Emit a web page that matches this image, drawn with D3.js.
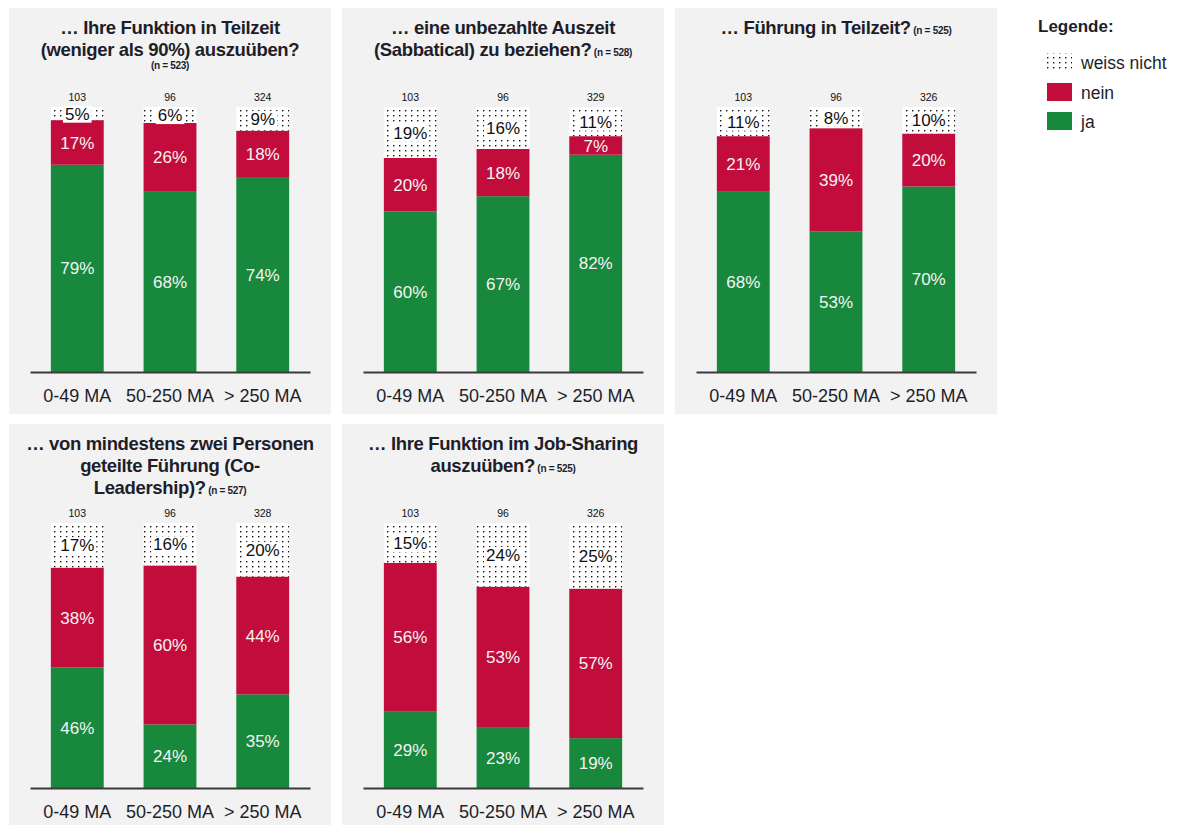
<!DOCTYPE html>
<html>
<head>
<meta charset="utf-8">
<script src="https://cdn.jsdelivr.net/npm/d3@7"></script>
<style>
  body { margin: 0; background: #fff; }
  svg { display: block; font-family: Arial, 'Liberation Sans', sans-serif; }
</style>
</head>
<body>
<svg id="chart"></svg>
<script>
// categories (company size)
let categories = ['0-49 MA', '50-250 MA', '> 250 MA'];

// titles per panel, the n is placed on its own line for the first one
let titleLines = [
  ['… Ihre Funktion in Teilzeit', '(weniger als 90%) auszuüben?'],
  ['… eine unbezahlte Auszeit', '(Sabbatical) zu beziehen?'],
  ['… Führung in Teilzeit?'],
  ['… von mindestens zwei Personen', 'geteilte Führung (Co-', 'Leadership)?'],
  ['… Ihre Funktion im Job-Sharing', 'auszuüben?']
];
let nOwnLine = [true, false, false, false, false];
let sampleSizes = [523, 528, 525, 527, 525];

let groupCounts = [
  [103, 96, 324],
  [103, 96, 329],
  [103, 96, 326],
  [103, 96, 328],
  [103, 96, 326]
];

let jaValues = [
  [79, 68, 74],
  [60, 67, 82],
  [68, 53, 70],
  [46, 24, 35],
  [29, 23, 19]
];
let neinValues = [
  [17, 26, 18],
  [20, 18, 7],
  [21, 39, 20],
  [38, 60, 44],
  [56, 53, 57]
];
let weissNichtValues = [
  [5, 6, 9],
  [19, 16, 11],
  [11, 8, 10],
  [17, 16, 20],
  [15, 24, 25]
];

let legendLabels = ['weiss nicht', 'nein', 'ja'];

let colors = { ja: '#17883c', nein: '#c20c3b', wn: 'url(#dots)' };
let panelW = 322;
let panelH = 406;
let panelPos = [[9, 8], [342, 8], [675, 8], [9, 424], [342, 424]];

function drawPanel(svg, i) {
  let g = svg.append('g')
    .attr('transform', `translate(${panelPos[i][0]},${panelPos[i][1]})`);

  g.append('rect')
    .attr('width', panelW)
    .attr('height', panelH)
    .attr('fill', '#f2f2f2');

  // title
  let title = g.append('text')
    .attr('text-anchor', 'middle')
    .attr('font-weight', 'bold')
    .attr('font-size', 18.5)
    .attr('letter-spacing', -0.35)
    .attr('fill', '#1e1e2a');
  titleLines[i].forEach((line, k) => {
    title.append('tspan')
      .attr('x', panelW / 2)
      .attr('y', 25.5 + k * 22)
      .text(line);
  });
  let nText = `(n = ${sampleSizes[i]})`;
  if (nOwnLine[i]) {
    g.append('text')
      .attr('text-anchor', 'middle')
      .attr('x', panelW / 2)
      .attr('y', 61)
      .attr('font-weight', 'bold')
      .attr('font-size', 10)
      .attr('letter-spacing', -0.3)
      .attr('fill', '#1e1e2a')
      .text(nText);
  } else {
    title.append('tspan')
      .attr('font-size', 10)
      .attr('letter-spacing', -0.3)
      .text(' ' + nText);
  }

  let rows = categories.map((c, j) => ({
    cat: c,
    ja: jaValues[i][j],
    nein: neinValues[i][j],
    wn: weissNichtValues[i][j],
    count: groupCounts[i][j]
  }));

  // stackOffsetExpand normalises each bar to 100%
  let series = d3.stack()
    .keys(['ja', 'nein', 'wn'])
    .offset(d3.stackOffsetExpand)(rows);

  let xScale = d3.scaleBand()
    .domain(categories)
    .range([21, 301])
    .paddingInner(0.43)
    .paddingOuter(0.225);

  let yScale = d3.scaleLinear()
    .domain([0, 1])
    .range([364, 99]);

  let layers = g.selectAll('g.layer')
    .data(series)
    .enter()
    .append('g')
    .attr('class', 'layer');

  layers.selectAll('rect')
    .data((s) => s.map((d) => ({ key: s.key, d: d })))
    .enter()
    .append('rect')
    .attr('x', (p) => xScale(p.d.data.cat))
    .attr('y', (p) => yScale(p.d[1]))
    .attr('width', xScale.bandwidth())
    .attr('height', (p) => yScale(p.d[0]) - yScale(p.d[1]))
    .attr('fill', (p) => colors[p.key]);

  // segment labels
  series.forEach((s) => {
    s.forEach((d) => {
      let cx = xScale(d.data.cat) + xScale.bandwidth() / 2;
      let cy = (yScale(d[0]) + yScale(d[1])) / 2;
      let label = g.append('text')
        .attr('x', cx)
        .attr('y', cy)
        .attr('dy', '0.36em')
        .attr('text-anchor', 'middle')
        .attr('font-size', 17)
        .attr('fill', s.key == 'wn' ? '#111' : '#f4f4f4')
        .text(d.data[s.key] + '%');
      if (s.key == 'wn') {
        let bb = label.node().getBBox();
        g.insert('rect', () => label.node())
          .attr('x', bb.x - 2)
          .attr('y', bb.y + 1)
          .attr('width', bb.width + 4)
          .attr('height', bb.height - 2)
          .attr('fill', '#fff');
      }
    });
  });

  // counts above bars
  g.selectAll('text.count')
    .data(rows)
    .enter()
    .append('text')
    .attr('class', 'count')
    .attr('x', (d) => xScale(d.cat) + xScale.bandwidth() / 2)
    .attr('y', yScale(1) - 6)
    .attr('text-anchor', 'middle')
    .attr('font-size', 10.5)
    .attr('fill', '#111')
    .text((d) => d.count);

  // AXIS
  let axis = g.append('g')
    .attr('transform', `translate(0, ${yScale(0)})`)
    .call(d3.axisBottom(xScale).tickSize(0).tickPadding(17));
  axis.select('.domain')
    .attr('stroke', '#3a3a3a')
    .attr('stroke-width', 2);
  axis.selectAll('text')
    .attr('font-size', 18)
    .attr('font-family', 'Arial, "Liberation Sans", sans-serif')
    .attr('fill', '#1e1e2a');
}

function drawLegend(svg) {
  let g = svg.append('g').attr('transform', 'translate(1038, 0)');
  g.append('text')
    .attr('x', 0)
    .attr('y', 32)
    .attr('font-weight', 'bold')
    .attr('font-size', 17)
    .attr('fill', '#1e1e2a')
    .text('Legende:');

  let fills = ['url(#dots)', colors.nein, colors.ja];
  let boxY = [53, 83, 112];
  legendLabels.forEach((lab, k) => {
    g.append('rect')
      .attr('x', 9)
      .attr('y', boxY[k])
      .attr('width', 25)
      .attr('height', 18)
      .attr('fill', fills[k]);
    g.append('text')
      .attr('x', 43)
      .attr('y', boxY[k] + 16)
      .attr('font-size', 17.5)
      .attr('fill', '#1e1e2a')
      .text(lab);
  });
}

window.onload = function () {
  let svg = d3.select('#chart')
    .attr('width', 1179)
    .attr('height', 825);

  let pattern = svg.append('defs')
    .append('pattern')
    .attr('id', 'dots')
    .attr('patternUnits', 'userSpaceOnUse')
    .attr('width', 6)
    .attr('height', 5)
    .attr('x', 1)
    .attr('y', 0);
  pattern.append('rect')
    .attr('width', 6)
    .attr('height', 5)
    .attr('fill', '#fff');
  pattern.append('rect')
    .attr('x', 2)
    .attr('y', 2)
    .attr('width', 1.4)
    .attr('height', 1.4)
    .attr('fill', '#111');

  for (let i = 0; i < titleLines.length; i++) {
    drawPanel(svg, i);
  }
  drawLegend(svg);
};
</script>
</body>
</html>
